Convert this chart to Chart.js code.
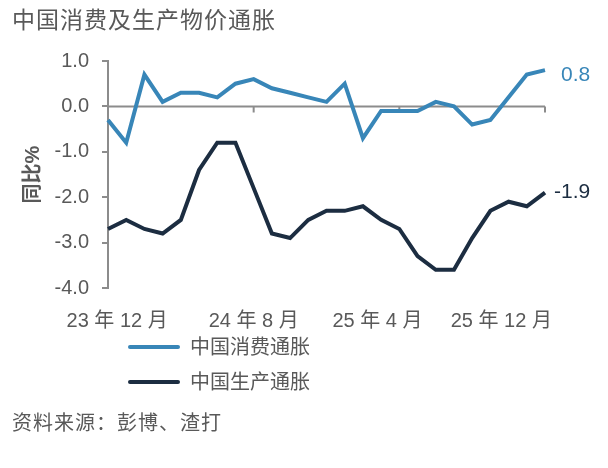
<!DOCTYPE html>
<html>
<head>
<meta charset="utf-8">
<script src="https://cdn.jsdelivr.net/npm/chart.js@4.4.1/dist/chart.umd.min.js"></script>
<style>
  body { margin: 0; background: #fff; }
  #wrap {
    position: relative; width: 608px; height: 468px; overflow: hidden;
    font-family: "Liberation Sans", "Noto Sans CJK SC", sans-serif; color: #595959;
  }
  #wrap canvas { position: absolute; left: 0; top: 0; }
  .txt { position: absolute; white-space: nowrap; line-height: 24px; }
  #title { left: 12px; top: 8px; font-size: 23px; letter-spacing: 1px; }
  #source { left: 12px; top: 411px; font-size: 20px; letter-spacing: 1px; }
  .legLine { position: absolute; left: 128px; width: 52px; height: 4px; border-radius: 2px; }
  .legText { left: 190px; font-size: 20px; }
</style>
</head>
<body>
<div id="wrap">
  <canvas id="lineChart" width="608" height="468"></canvas>
  <div class="txt" id="title">中国消费及生产物价通胀</div>
  <div id="legend"></div>
  <div class="txt" id="source">资料来源：彭博、渣打</div>
</div>
<script>
// monthly, Dec 2023 .. Dec 2025
const months = [
  '23/12', '24/01', '24/02', '24/03', '24/04', '24/05', '24/06', '24/07', '24/08',
  '24/09', '24/10', '24/11', '24/12', '25/01', '25/02', '25/03', '25/04', '25/05',
  '25/06', '25/07', '25/08', '25/09', '25/10', '25/11', '25/12'
];
const cpi = [-0.3, -0.8, 0.7, 0.1, 0.3, 0.3, 0.2, 0.5, 0.6, 0.4, 0.3, 0.2, 0.1,
             0.5, -0.7, -0.1, -0.1, -0.1, 0.1, 0.0, -0.4, -0.3, 0.2, 0.7, 0.8];
const ppi = [-2.7, -2.5, -2.7, -2.8, -2.5, -1.4, -0.8, -0.8, -1.8, -2.8, -2.9, -2.5, -2.3,
             -2.3, -2.2, -2.5, -2.7, -3.3, -3.6, -3.6, -2.9, -2.3, -2.1, -2.2, -1.9];
const xTickLabels = ['23 年 12 月', '24 年 8 月', '25 年 4 月', '25 年 12 月'];
const yTicks = [1, 0, -1, -2, -3, -4];

const FONT = '"Liberation Sans", "Noto Sans CJK SC", sans-serif';
const GREY = '#595959';
const AXIS = '#8c8c8c';

const lineData = {
  labels: months,
  datasets: [{
    label: '中国消费通胀',
    data: cpi,
    borderColor: '#3886b8',
    borderWidth: 4,
    pointRadius: 0,
    tension: 0,
    endLabelShift: [16, 5]
  }, {
    label: '中国生产通胀',
    data: ppi,
    borderColor: '#1c2d41',
    borderWidth: 4,
    pointRadius: 0,
    tension: 0,
    endLabelShift: [9, 0]
  }]
};

// zero line with small ticks every 8 months
const zeroAxis = {
  id: 'zeroAxis',
  beforeDatasetsDraw(chart) {
    const {ctx, chartArea, scales} = chart;
    const y0 = scales.y.getPixelForValue(0);
    ctx.save();
    ctx.strokeStyle = AXIS;
    ctx.lineWidth = 2;
    ctx.beginPath();
    ctx.moveTo(chartArea.left, y0);
    ctx.lineTo(chartArea.right, y0);
    for (let i = 0; i < months.length; i += 8) {
      const x = scales.x.getPixelForValue(i);
      ctx.moveTo(x, y0);
      ctx.lineTo(x, y0 + 6);
    }
    ctx.stroke();
    ctx.restore();
  }
};

// value at the end of each line
const endLabels = {
  id: 'endLabels',
  afterDatasetsDraw(chart) {
    const {ctx} = chart;
    ctx.save();
    ctx.font = '21px ' + FONT;
    ctx.textBaseline = 'middle';
    chart.data.datasets.forEach((ds, i) => {
      const pts = chart.getDatasetMeta(i).data;
      const last = pts[pts.length - 1];
      const [dx, dy] = ds.endLabelShift;
      ctx.fillStyle = ds.borderColor;
      ctx.fillText(ds.data[ds.data.length - 1].toFixed(1), last.x + dx, last.y + dy);
    });
    ctx.restore();
  }
};

const lineOptions = {
  responsive: false,
  animation: false,
  devicePixelRatio: 1,
  layout: { padding: { left: 0, right: 63, top: 61, bottom: 135 } },
  plugins: {
    legend: { display: false },
    tooltip: { enabled: false }
  },
  scales: {
    x: { type: 'category', display: false },
    xLab: {
      type: 'linear',
      position: 'bottom',
      min: 0,
      max: months.length - 1,
      afterBuildTicks: axis => {
        axis.ticks = [0.5, 8, 14.8, 21.6].map(v => ({value: v}));
      },
      afterFit: s => { s.height = 45; },
      grid: { display: false, drawTicks: false },
      border: { display: false },
      ticks: {
        autoSkip: false,
        maxRotation: 0,
        padding: 21,
        color: GREY,
        font: { size: 20, family: FONT },
        callback: (v, i) => xTickLabels[i]
      }
    },
    y: {
      min: -4,
      max: 1,
      afterBuildTicks: axis => { axis.ticks = yTicks.map(v => ({value: v})); },
      afterFit: s => { s.width = 108; },
      grid: { drawOnChartArea: false, color: AXIS, lineWidth: 2, tickLength: 6 },
      border: { color: AXIS, width: 2 },
      ticks: {
        padding: 13,
        color: GREY,
        font: { size: 20, family: FONT },
        callback: v => v.toFixed(1)
      },
      title: {
        display: true,
        text: '同比%',
        color: GREY,
        padding: { top: 21, bottom: 0 },
        font: { size: 20, weight: 'bold', family: FONT }
      }
    }
  }
};

const ctxLine = document.getElementById('lineChart').getContext('2d');
const lineChart = new Chart(ctxLine, {
  type: 'line',
  data: lineData,
  options: lineOptions,
  plugins: [zeroAxis, endLabels]
});

// legend, stacked below the axis
const legend = document.getElementById('legend');
lineData.datasets.forEach((ds, i) => {
  const cy = 347 + i * 35;
  const line = document.createElement('div');
  line.className = 'legLine';
  line.style.top = (cy - 2) + 'px';
  line.style.background = ds.borderColor;
  const txt = document.createElement('div');
  txt.className = 'txt legText';
  txt.style.top = (cy - 12) + 'px';
  txt.textContent = ds.label;
  legend.appendChild(line);
  legend.appendChild(txt);
});
</script>
</body>
</html>
